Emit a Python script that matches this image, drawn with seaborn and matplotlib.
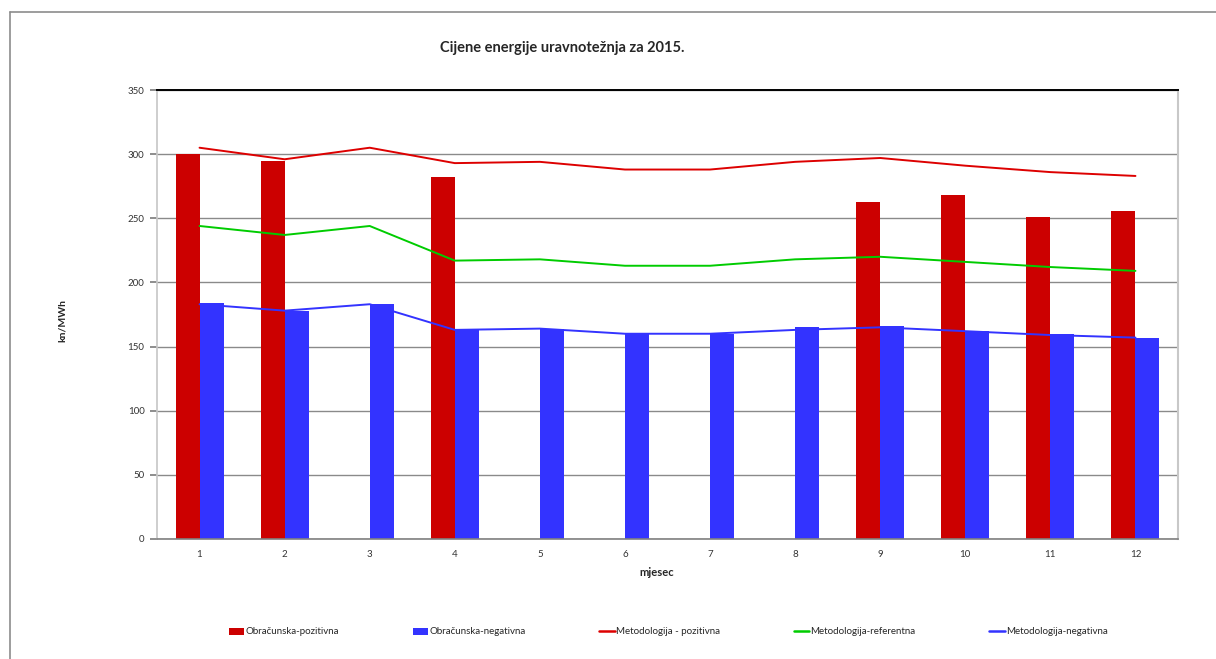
import numpy as np
import pandas as pd
import matplotlib
matplotlib.use("Agg")
import matplotlib.pyplot as plt
import seaborn as sns
from matplotlib.lines import Line2D
from matplotlib.patches import Patch
from matplotlib import font_manager

months = ["1", "2", "3", "4", "5", "6", "7", "8", "9", "10", "11", "12"]
obr_poz = [300, 295, np.nan, 282, np.nan, np.nan, np.nan, np.nan, 263, 268, 251, 256]
obr_neg = [184, 178, 183, 164, 164, 160, 160, 165, 166, 162, 160, 157]
met_poz = [305, 296, 305, 293, 294, 288, 288, 294, 297, 291, 286, 283]
met_ref = [244, 237, 244, 217, 218, 213, 213, 218, 220, 216, 212, 209]
met_neg = [183, 178, 183, 163, 164, 160, 160, 163, 165, 162, 159, 157]

bar_names = ["Obračunska-pozitivna", "Obračunska-negativna"]
line_names = ["Metodologija - pozitivna", "Metodologija-referentna", "Metodologija-negativna"]
bar_colors = ["#CC0000", "#3333FF"]
line_colors = ["#DD0000", "#00CC00", "#3333FF"]
yticks = [0, 50, 100, 150, 200, 250, 300, 350]

sns.set_theme(style="white")
avail = {f.name for f in font_manager.fontManager.ttflist}
fam = [f for f in ["Liberation Sans Narrow", "Lato", "DejaVu Sans"] if f in avail]
plt.rcParams["font.family"] = fam

bars_df = pd.DataFrame({
    "mjesec": months * 2,
    "vrijednost": obr_poz + obr_neg,
    "serija": [bar_names[0]] * 12 + [bar_names[1]] * 12,
})
lines_df = pd.DataFrame({
    "mjesec": months * 3,
    "vrijednost": met_poz + met_ref + met_neg,
    "serija": [line_names[0]] * 12 + [line_names[1]] * 12 + [line_names[2]] * 12,
})

fig = plt.figure(figsize=(12.16, 6.59), dpi=100)
ax = fig.add_axes([157 / 1216, 1 - 539 / 659, (1178 - 157) / 1216, (539 - 90) / 659])

sns.barplot(data=bars_df, x="mjesec", y="vrijednost", hue="serija",
            hue_order=bar_names, palette=bar_colors, width=0.565,
            order=months, ax=ax, legend=False, saturation=1,
            edgecolor="none", linewidth=0, zorder=2)
for name, c in zip(line_names, line_colors):
    sub = lines_df[lines_df["serija"] == name]
    sns.lineplot(x=np.arange(len(months)), y=sub["vrijednost"].to_numpy(), color=c,
                 linewidth=1.4, ax=ax, zorder=3)

ax.set_xlim(-0.5, 11.5)
ax.set_ylim(0, 350)
ax.set_yticks(yticks)
ax.set_yticklabels([str(v) for v in yticks], fontsize=7, color="#333333")
ax.set_xticks(range(12))
ax.set_xticklabels(months, fontsize=7, color="#333333")
ax.set_xticks(np.arange(-0.5, 12, 1), minor=True)
ax.tick_params(axis="x", which="major", length=0, pad=8)
ax.tick_params(axis="x", which="minor", length=4, color="#b0b0b0", direction="out")
ax.tick_params(axis="y", which="major", length=5, color="#808080", direction="out", left=True, pad=4)
ax.set_xlabel("")
ax.set_ylabel("")
ax.grid(axis="y", color="#8a8a8a", linewidth=1, zorder=0)
ax.set_axisbelow(True)
ax.spines["top"].set_color("#000000")
ax.spines["top"].set_linewidth(1.4)
ax.spines["left"].set_color("#c8c8c8")
ax.spines["right"].set_color("#c8c8c8")
ax.spines["right"].set_linewidth(1.5)
ax.spines["bottom"].set_color("#808080")
ax.spines["bottom"].set_linewidth(1.2)

fig.text(562 / 1216, 1 - 48 / 659, "Cijene energije uravnotežnja za 2015.",
         ha="center", va="center", fontsize=10.5, fontweight="bold")
fig.text(62 / 1216, 1 - 320 / 659, "kn/MWh", rotation=90, ha="center", va="center",
         fontsize=7.5, fontweight="bold")
fig.text(657 / 1216, 1 - 572 / 659, "mjesec", ha="center", va="center",
         fontsize=8, fontweight="bold")

handles = [Patch(facecolor=bar_colors[0], edgecolor="none"),
           Patch(facecolor=bar_colors[1], edgecolor="none")]
handles += [Line2D([0], [0], color=c, linewidth=1.8) for c in line_colors]
labels = bar_names + line_names
fig.legend(handles, labels, loc="center", bbox_to_anchor=(668 / 1216, 1 - 632 / 659),
           ncol=5, frameon=False, fontsize=7, handlelength=1.6, handleheight=0.7,
           handletextpad=0.1, columnspacing=7.6)

fig.add_artist(Line2D([10 / 1216, 1], [1 - 12 / 659] * 2, transform=fig.transFigure,
                      color="#8c8c8c", linewidth=1.2))
fig.add_artist(Line2D([10 / 1216] * 2, [0, 1 - 12 / 659], transform=fig.transFigure,
                      color="#8c8c8c", linewidth=1.2))

fig.savefig("out.png", dpi=100, facecolor="white")
